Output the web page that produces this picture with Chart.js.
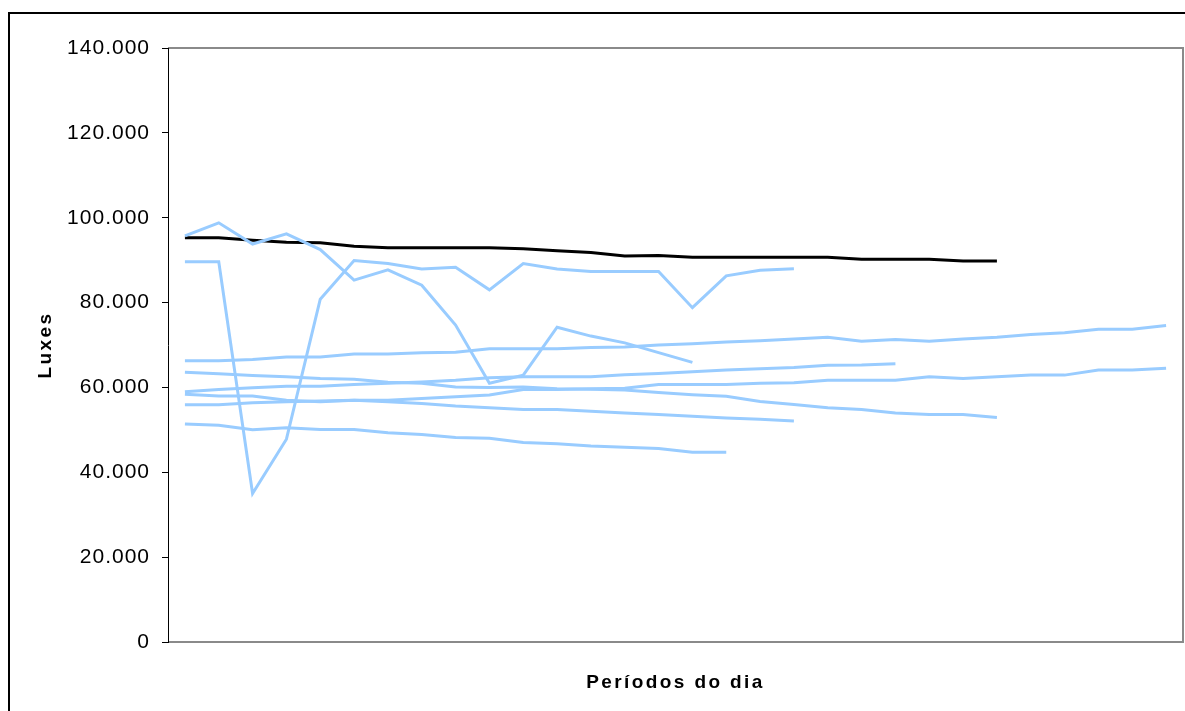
<!DOCTYPE html>
<html>
<head>
<meta charset="utf-8">
<script src="https://cdn.jsdelivr.net/npm/chart.js@4.4.1/dist/chart.umd.min.js"></script>
<style>
  html, body { margin: 0; padding: 0; background: #ffffff; }
  canvas { display: block; }
</style>
</head>
<body>
<canvas id="grafico" width="1185" height="711"></canvas>
<script>
// Períodos do dia (eixo X, sem rótulos visíveis)
const periodos = ['1','2','3','4','5','6','7','8','9','10','11','12','13','14','15',
                  '16','17','18','19','20','21','22','23','24','25','26','27','28','29','30'];

// Rótulos do eixo Y (luxes)
const rotulosY = ['0', '20.000', '40.000', '60.000', '80.000', '100.000', '120.000', '140.000'];

// Linha de referência (preta)
const referencia = [95300, 95300, 94700, 94200, 94100, 93300, 92900, 92900, 92900, 92900,
                    92700, 92200, 91800, 91000, 91100, 90700, 90700, 90700, 90700, 90700,
                    90200, 90200, 90200, 89800, 89800];

// Medições (linhas azuis)
const medicao1 = [95700, 98800, 93800, 96200, 92500, 85300, 87700, 84100, 74700, 61000,
                  62900, 74200, 72100, 70500, 68200, 65900];
const medicao2 = [89600, 89600, 35000, 47800, 80800, 89900, 89200, 87900, 88300, 83000,
                  89200, 87900, 87300, 87300, 87300, 78800, 86300, 87600, 88000];
const medicao3 = [66300, 66300, 66600, 67200, 67200, 67900, 67900, 68200, 68300, 69100,
                  69100, 69100, 69400, 69500, 70000, 70300, 70700, 71000, 71400, 71800,
                  70900, 71300, 70900, 71400, 71800, 72500, 72900, 73700, 73700, 74600];
const medicao4 = [63600, 63200, 62800, 62500, 62100, 61900, 61200, 61000, 60100, 60000,
                  60100, 59700, 59600, 59400, 58800, 58300, 57900, 56700, 56000, 55200,
                  54800, 54000, 53600, 53600, 52900];
const medicao5 = [59000, 59500, 59900, 60300, 60300, 60700, 61000, 61300, 61700, 62300,
                  62500, 62500, 62500, 63000, 63300, 63700, 64100, 64400, 64700, 65200,
                  65300, 65600];
const medicao6 = [58400, 58000, 58000, 57000, 56600, 57000, 57000, 57400, 57800, 58200,
                  59500, 59500, 59700, 59800, 60700, 60700, 60700, 61000, 61100, 61700,
                  61700, 61700, 62500, 62100, 62500, 62900, 62900, 64100, 64100, 64500];
const medicao7 = [55900, 55900, 56400, 56600, 56800, 57000, 56600, 56200, 55600, 55200,
                  54800, 54800, 54400, 54000, 53600, 53200, 52800, 52500, 52100];
const medicao8 = [51400, 51100, 50000, 50500, 50100, 50100, 49300, 48900, 48200, 48000,
                  47000, 46700, 46200, 45900, 45600, 44700, 44700];

const AZUL = '#99CCFF';
const medicoes = [medicao1, medicao2, medicao3, medicao4, medicao5, medicao6, medicao7, medicao8];

const datasets = medicoes.map((serie, i) => ({
  label: 'Medição ' + (i + 1),
  data: serie,
  borderColor: AZUL,
  borderWidth: 3,
  pointRadius: 0,
  tension: 0,
  fill: false
}));
datasets.push({
  label: 'Referência',
  data: referencia,
  borderColor: '#000000',
  borderWidth: 3,
  pointRadius: 0,
  tension: 0,
  fill: false
});

// Moldura externa, contorno da área de plotagem e espaçamento das letras
const moldura = {
  id: 'moldura',
  beforeDraw(chart) {
    const ctx = chart.ctx;
    const a = chart.chartArea;
    ctx.save();
    ctx.fillStyle = '#ffffff';
    ctx.fillRect(0, 0, chart.width, chart.height);
    ctx.strokeStyle = '#000000';
    ctx.lineWidth = 2;
    ctx.strokeRect(9, 13, chart.width + 40, chart.height + 40);
    ctx.strokeStyle = '#8a8a8a';
    ctx.lineWidth = 2;
    ctx.beginPath();
    ctx.moveTo(a.left, a.top);
    ctx.lineTo(a.right, a.top);
    ctx.lineTo(a.right, a.bottom);
    ctx.lineTo(a.left, a.bottom);
    ctx.stroke();
    ctx.restore();
    ctx.letterSpacing = '2.4px';
  },
  afterDatasetsDraw(chart) {
    chart.ctx.letterSpacing = '1px';
  },
  afterDraw(chart) {
    chart.ctx.letterSpacing = '0px';
  }
};

new Chart(document.getElementById('grafico'), {
  type: 'line',
  data: { labels: periodos, datasets: datasets },
  options: {
    responsive: false,
    animation: false,
    devicePixelRatio: 1,
    layout: { padding: { left: 0, top: 48, right: 2, bottom: 0 } },
    plugins: { legend: { display: false }, tooltip: { enabled: false } },
    scales: {
      x: {
        type: 'category',
        offset: true,
        grid: { display: false },
        border: { display: false },
        ticks: { display: false },
        title: {
          display: true,
          text: 'Períodos do dia',
          color: '#000000',
          font: { family: 'Liberation Sans', size: 19, weight: 'bold' },
          padding: { top: 0, bottom: 17 }
        },
        afterFit(scale) { scale.height = 69; }
      },
      y: {
        min: 0,
        max: 140000,
        grid: {
          drawOnChartArea: false,
          drawTicks: true,
          tickLength: 6,
          color: '#000000',
          lineWidth: 1
        },
        border: { display: true, color: '#000000', width: 1 },
        ticks: {
          stepSize: 20000,
          padding: 12,
          color: '#000000',
          z: 1,
          font: { family: 'Liberation Sans', size: 21 },
          callback: (v) => rotulosY[Math.round(v / 20000)]
        },
        title: {
          display: true,
          text: 'Luxes',
          color: '#000000',
          font: { family: 'Liberation Sans', size: 19, weight: 'bold' },
          padding: { top: 34, bottom: 0 }
        },
        afterFit(scale) { scale.width = 168; }
      }
    }
  },
  plugins: [moldura]
});
</script>
</body>
</html>
